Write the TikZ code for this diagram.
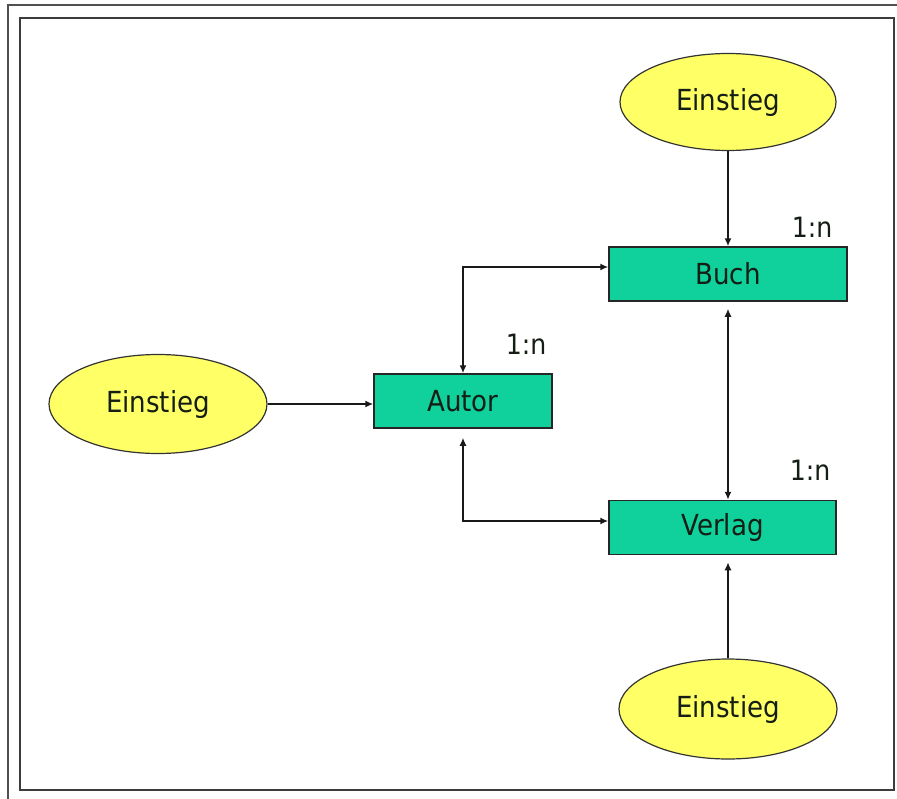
\documentclass[tikz,border=0pt]{standalone}
\usepackage{fontspec}
\setmainfont{DejaVu Sans Condensed}
\usetikzlibrary{arrows.meta,shapes.geometric}

\definecolor{entityfill}{RGB}{16,208,156}
\definecolor{entryfill}{RGB}{255,255,102}
\definecolor{framegray}{RGB}{60,60,60}
\definecolor{inkdark}{RGB}{20,30,20}

\tikzset{
  entity/.style={draw=black!85, line width=1.5pt, fill=entityfill, text=inkdark,
    minimum height=54pt, inner sep=0pt, font=\fontsize{29}{32}\selectfont},
  entry/.style={ellipse, draw=black!80, line width=1.2pt, fill=entryfill, text=inkdark,
    inner sep=0pt, font=\fontsize{29}{32}\selectfont},
  card/.style={font=\fontsize{28}{32}\selectfont, inner sep=0pt, text=inkdark},
  link/.style={line width=1.5pt, draw=black!90,
    arrows={-Latex[length=8pt,width=7pt]}},
  biglink/.style={line width=1.5pt, draw=black!90,
    arrows={Latex[length=8pt,width=7pt]-Latex[length=8pt,width=7pt]}},
}

\begin{document}
\begin{tikzpicture}[x=1pt,y=-1pt]
  \useasboundingbox (0,0) rectangle (897,798);
  \fill[white] (0,0) rectangle (897,798);

  % page frames
  \draw[framegray!90, line width=1.4pt] (8,800) -- (8,5) -- (900,5);
  \draw[framegray, line width=2pt] (20,18) rectangle (894,790);

  % entities
  \node[entity, minimum width=238pt] (buch)   at (728,274)   {Buch};
  \node[entity, minimum width=178pt] (autor)  at (463,401)   {Autor};
  \node[entity, minimum width=227pt] (verlag) at (722.5,527.5) {Verlag};

  % entry points
  \node[entry, minimum width=216pt, minimum height=97pt]  (e1) at (728,102) {Einstieg};
  \node[entry, minimum width=218pt, minimum height=99pt]  (e2) at (158,404) {Einstieg};
  \node[entry, minimum width=218pt, minimum height=100pt] (e3) at (728,709) {Einstieg};

  % cardinalities
  \node[card] (c1) at (812,227) {1:n};
  \node[card] (c2) at (526,344) {1:n};
  \node[card] (c3) at (810,470) {1:n};

  % connectors from entry points
  \draw[link] (e1.south) -- (buch.north);
  \draw[link] (e2.east) -- (e2.east -| autor.west);
  \draw[link, shorten >=7pt] (e3.north) -- ([xshift=5.5pt]verlag.south);

  % relations between entities
  \draw[biglink] (autor.north) |- ([yshift=7pt]buch.west);
  \draw[biglink, shorten <=9pt] (autor.south) |- ([yshift=6.5pt]verlag.west);
  \draw[biglink, shorten <=7pt] (buch.south) -- ([xshift=5.5pt]verlag.north);
\end{tikzpicture}
\end{document}
